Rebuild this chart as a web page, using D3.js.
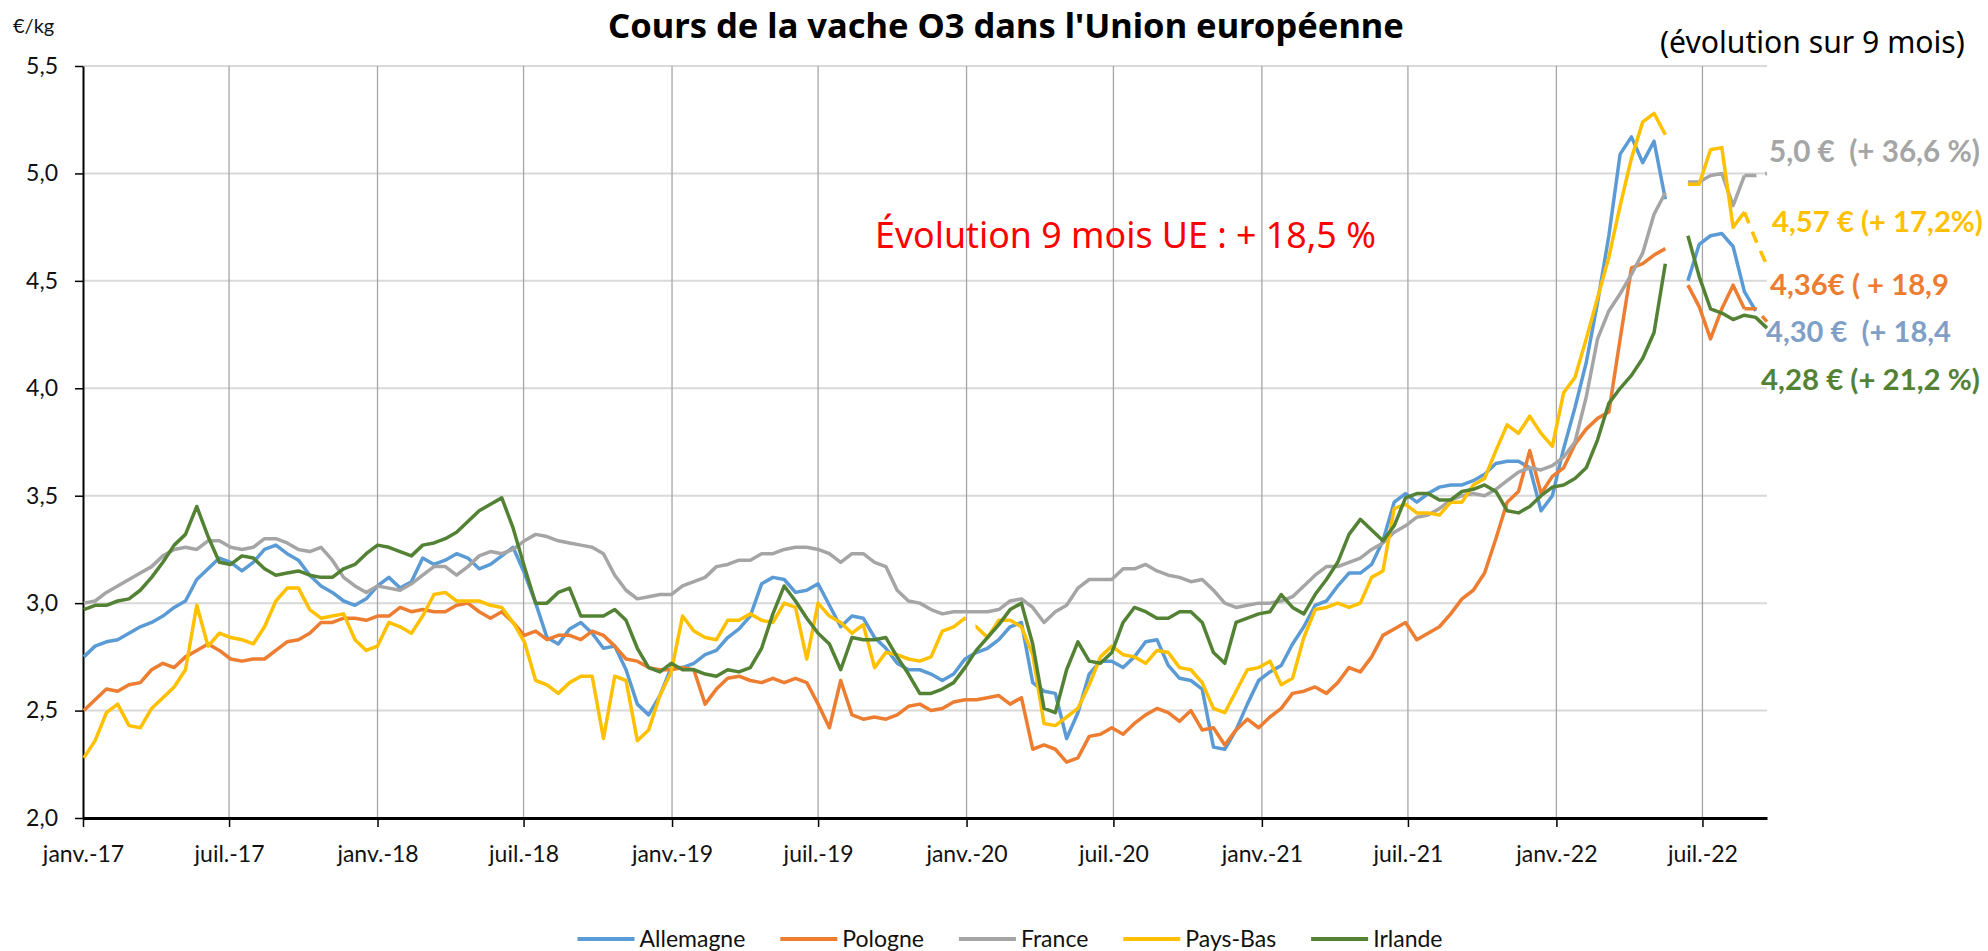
<!DOCTYPE html>
<html lang="fr">
<head>
<meta charset="utf-8">
<title>Cours de la vache O3 dans l'Union européenne</title>
<script src="https://cdn.jsdelivr.net/npm/d3@7"></script>
<style>
  body { margin: 0; background: #fff; }
  svg { display: block; font-family: Lato, 'Open Sans', sans-serif; }
  .grid-h line { stroke: #d9d9d9; stroke-width: 2; }
  .grid-v line { stroke: #a6a6a6; stroke-width: 1.3; }
  .axis text { font-size: 23px; fill: #111; font-family: Lato, sans-serif; }
  .axis line, .axis path { stroke: #000; }
  .series { fill: none; stroke-width: 3.5; stroke-linejoin: round; stroke-linecap: butt; }
</style>
</head>
<body>
<div class="chart"></div>
<script>
const svgWidth = 1988;
const svgHeight = 951;

// plot box, in pixels
const plot = { left: 83, right: 1767, top: 66, bottom: 818 };

// one price every two weeks, first one on 2 Jan 2017
const firstWeek = new Date(2017, 0, 2);
const stepDays = 14;

const seriesNames = ['Allemagne', 'Pologne', 'France', 'Pays-Bas', 'Irlande'];

// null = no price published that week
const allemagne = [
  2.75, 2.80, 2.82, 2.83, 2.86, 2.89, 2.91, 2.94, 2.98, 3.01, 3.11, 3.16, 3.21, 3.19, 3.15, 3.19, 3.25, 3.27, 3.23, 3.20, 3.13, 3.08, 3.05, 3.01, 2.99, 3.02, 3.08,
  3.12, 3.07, 3.10, 3.21, 3.18, 3.20, 3.23, 3.21, 3.16, 3.18, 3.22, 3.26, 3.14, 3.00, 2.84, 2.81, 2.88, 2.91, 2.86, 2.79, 2.80, 2.69, 2.53, 2.48, 2.57, 2.70,
  2.70, 2.72, 2.76, 2.78, 2.84, 2.88, 2.94, 3.09, 3.12, 3.11, 3.05, 3.06, 3.09, 2.99, 2.89, 2.94, 2.93, 2.84, 2.79, 2.72, 2.69, 2.69, 2.67, 2.64, 2.67, 2.74,
  2.77, 2.79, 2.83, 2.89, 2.91, 2.63, 2.59, 2.58, 2.37, 2.49, 2.67, 2.73, 2.73, 2.70, 2.75, 2.82, 2.83, 2.71, 2.65, 2.64, 2.60, 2.33, 2.32, 2.41, 2.53, 2.64,
  2.68, 2.71, 2.81, 2.89, 2.99, 3.01, 3.08, 3.14, 3.14, 3.18, 3.29, 3.47, 3.51, 3.47, 3.51, 3.54, 3.55, 3.55, 3.57, 3.60, 3.65, 3.66, 3.66, 3.63, 3.43, 3.50,
  3.72, 3.91, 4.12, 4.40, 4.71, 5.09, 5.17, 5.05, 5.15, 4.88, null, 4.50, 4.67, 4.71, 4.72, 4.66, 4.45, 4.36, null
];

const pologne = [
  2.50, 2.55, 2.60, 2.59, 2.62, 2.63, 2.69, 2.72, 2.70, 2.75, 2.78, 2.81, 2.78, 2.74, 2.73, 2.74, 2.74, 2.78, 2.82, 2.83, 2.86, 2.91, 2.91, 2.93, 2.93, 2.92, 2.94,
  2.94, 2.98, 2.96, 2.97, 2.96, 2.96, 2.99, 3.00, 2.96, 2.93, 2.96, 2.91, 2.85, 2.87, 2.83, 2.85, 2.85, 2.83, 2.87, 2.85, 2.80, 2.74, 2.73, 2.70, 2.69, 2.69,
  2.70, 2.69, 2.53, 2.60, 2.65, 2.66, 2.64, 2.63, 2.65, 2.63, 2.65, 2.63, 2.53, 2.42, 2.64, 2.48, 2.46, 2.47, 2.46, 2.48, 2.52, 2.53, 2.50, 2.51, 2.54, 2.55,
  2.55, 2.56, 2.57, 2.53, 2.56, 2.32, 2.34, 2.32, 2.26, 2.28, 2.38, 2.39, 2.42, 2.39, 2.44, 2.48, 2.51, 2.49, 2.45, 2.50, 2.41, 2.42, 2.34, 2.41, 2.46, 2.42,
  2.47, 2.51, 2.58, 2.59, 2.61, 2.58, 2.63, 2.70, 2.68, 2.75, 2.85, 2.88, 2.91, 2.83, 2.86, 2.89, 2.95, 3.02, 3.06, 3.14, 3.30, 3.47, 3.52, 3.71, 3.51, 3.59,
  3.63, 3.74, 3.81, 3.86, 3.89, 4.23, 4.56, 4.58, 4.62, 4.65, null, 4.48, 4.38, 4.23, 4.37, 4.48, 4.37, 4.37, 4.31
];

const france = [
  3.00, 3.01, 3.05, 3.08, 3.11, 3.14, 3.17, 3.22, 3.25, 3.26, 3.25, 3.29, 3.29, 3.26, 3.25, 3.26, 3.30, 3.30, 3.28, 3.25, 3.24, 3.26, 3.20, 3.12, 3.08, 3.05, 3.08,
  3.07, 3.06, 3.09, 3.13, 3.17, 3.17, 3.13, 3.17, 3.22, 3.24, 3.23, 3.25, 3.29, 3.32, 3.31, 3.29, 3.28, 3.27, 3.26, 3.23, 3.13, 3.06, 3.02, 3.03, 3.04, 3.04,
  3.08, 3.10, 3.12, 3.17, 3.18, 3.20, 3.20, 3.23, 3.23, 3.25, 3.26, 3.26, 3.25, 3.23, 3.19, 3.23, 3.23, 3.19, 3.17, 3.06, 3.01, 3.00, 2.97, 2.95, 2.96, 2.96,
  2.96, 2.96, 2.97, 3.01, 3.02, 2.98, 2.91, 2.96, 2.99, 3.07, 3.11, 3.11, 3.11, 3.16, 3.16, 3.18, 3.15, 3.13, 3.12, 3.10, 3.11, 3.06, 3.00, 2.98, 2.99, 3.00,
  3.00, 3.01, 3.03, 3.08, 3.13, 3.17, 3.17, 3.19, 3.21, 3.25, 3.28, 3.33, 3.36, 3.40, 3.41, 3.44, 3.48, 3.50, 3.51, 3.50, 3.53, 3.57, 3.61, 3.63, 3.62, 3.64,
  3.68, 3.75, 3.96, 4.23, 4.36, 4.44, 4.53, 4.63, 4.81, 4.91, null, 4.96, 4.96, 4.99, 5.00, 4.85, 4.99, 4.99, 5.00
];

const paysBas = [
  2.28, 2.36, 2.49, 2.53, 2.43, 2.42, 2.51, 2.56, 2.61, 2.69, 2.99, 2.80, 2.86, 2.84, 2.83, 2.81, 2.89, 3.01, 3.07, 3.07, 2.97, 2.93, 2.94, 2.95, 2.83, 2.78, 2.80,
  2.91, 2.89, 2.86, 2.94, 3.04, 3.05, 3.01, 3.01, 3.01, 2.99, 2.98, 2.91, 2.82, 2.64, 2.62, 2.58, 2.63, 2.66, 2.66, 2.37, 2.66, 2.64, 2.36, 2.41, 2.57, 2.68,
  2.94, 2.87, 2.84, 2.83, 2.92, 2.92, 2.95, 2.92, 2.91, 3.00, 2.98, 2.74, 3.00, 2.94, 2.91, 2.86, 2.90, 2.70, 2.77, 2.76, 2.74, 2.73, 2.75, 2.87, 2.89, 2.93,
  2.89, 2.84, 2.92, 2.92, 2.89, 2.76, 2.44, 2.43, 2.47, 2.51, 2.62, 2.75, 2.80, 2.76, 2.75, 2.72, 2.78, 2.77, 2.70, 2.69, 2.63, 2.51, 2.49, 2.59, 2.69, 2.70,
  2.73, 2.62, 2.65, 2.84, 2.97, 2.98, 3.00, 2.98, 3.00, 3.12, 3.15, 3.44, 3.46, 3.42, 3.42, 3.41, 3.47, 3.47, 3.55, 3.58, 3.71, 3.83, 3.79, 3.87, 3.79, 3.73,
  3.98, 4.05, 4.23, 4.42, 4.61, 4.85, 5.07, 5.24, 5.28, 5.18, null, 4.95, 4.95, 5.11, 5.12, 4.75, 4.82, 4.69, 4.57
];

const irlande = [
  2.97, 2.99, 2.99, 3.01, 3.02, 3.06, 3.12, 3.19, 3.27, 3.32, 3.45, 3.31, 3.19, 3.18, 3.22, 3.21, 3.16, 3.13, 3.14, 3.15, 3.13, 3.12, 3.12, 3.16, 3.18, 3.23, 3.27,
  3.26, 3.24, 3.22, 3.27, 3.28, 3.30, 3.33, 3.38, 3.43, 3.46, 3.49, 3.35, 3.17, 3.00, 3.00, 3.05, 3.07, 2.94, 2.94, 2.94, 2.97, 2.92, 2.79, 2.70, 2.68, 2.72,
  2.69, 2.69, 2.67, 2.66, 2.69, 2.68, 2.70, 2.79, 2.95, 3.08, 3.01, 2.93, 2.86, 2.81, 2.69, 2.84, 2.83, 2.83, 2.84, 2.75, 2.67, 2.58, 2.58, 2.60, 2.63, 2.70,
  2.78, 2.84, 2.90, 2.97, 3.00, 2.81, 2.51, 2.49, 2.69, 2.82, 2.73, 2.72, 2.77, 2.91, 2.98, 2.96, 2.93, 2.93, 2.96, 2.96, 2.91, 2.77, 2.72, 2.91, 2.93, 2.95,
  2.96, 3.04, 2.98, 2.95, 3.04, 3.11, 3.19, 3.32, 3.39, 3.34, 3.29, 3.36, 3.49, 3.51, 3.51, 3.48, 3.48, 3.52, 3.53, 3.55, 3.52, 3.43, 3.42, 3.45, 3.50, 3.54,
  3.55, 3.58, 3.63, 3.76, 3.93, 4.00, 4.06, 4.14, 4.26, 4.58, null, 4.71, 4.52, 4.37, 4.35, 4.32, 4.34, 4.33, 4.28
];

// Pays-Bas misses one week around new year 2020
const gapPaysBas = [['2019-12-31', '2020-01-12']];

const xTickLabels = ['janv.-17', 'juil.-17', 'janv.-18', 'juil.-18', 'janv.-19', 'juil.-19',
  'janv.-20', 'juil.-20', 'janv.-21', 'juil.-21', 'janv.-22', 'juil.-22'];
const yTicks = [2.0, 2.5, 3.0, 3.5, 4.0, 4.5, 5.0, 5.5];

const endLabels = ['5,0 €  (+ 36,6 %)', '4,57 € (+ 17,2%)', '4,36€ ( + 18,9', '4,30 €  (+ 18,4', '4,28 € (+ 21,2 %)'];

// styling
const colors = ['#5b9bd5', '#ed7d31', '#a5a5a5', '#ffc000', '#548235'];
const endLabelColors = ['#a5a5a5', '#ffc000', '#ed7d31', '#7f9fc6', '#548235'];
const endLabelPos = [
  { x: 1769, y: 152, w: 211 },
  { x: 1772, y: 222, w: 211 },
  { x: 1770, y: 285, w: 179 },
  { x: 1766, y: 332, w: 185 },
  { x: 1761, y: 380, w: 219 }
];

const frFormat = d3.formatLocale({ decimal: ',', thousands: ' ', grouping: [3], currency: ['', ' €'] });

const dates = allemagne.map((_, i) => d3.timeDay.offset(firstWeek, stepDays * i));

const seriesList = [
  { name: 'Allemagne', values: allemagne, color: colors[0], dashFrom: null, gaps: [] },
  { name: 'Pologne', values: pologne, color: colors[1], dashFrom: 147, gaps: [] },
  { name: 'France', values: france, color: colors[2], dashFrom: 147, gaps: [] },
  { name: 'Pays-Bas', values: paysBas, color: colors[3], dashFrom: 147, gaps: gapPaysBas },
  { name: 'Irlande', values: irlande, color: colors[4], dashFrom: null, gaps: [] }
];

const svg = d3.select('.chart')
  .append('svg')
  .attr('width', svgWidth)
  .attr('height', svgHeight);

const xScale = d3.scaleTime()
  .domain([new Date(2017, 0, 1), new Date(2022, 8, 19)])
  .range([plot.left, plot.right]);

const yScale = d3.scaleLinear()
  .domain([2, 5.5])
  .range([plot.bottom, plot.top]);

const xTickDates = d3.timeMonth.every(6).range(new Date(2017, 0, 1), new Date(2022, 7, 1));

// gridlines
svg.append('g')
  .attr('class', 'grid-h')
  .selectAll('line')
  .data(yTicks.filter(d => d > 2))
  .enter()
  .append('line')
  .attr('x1', plot.left)
  .attr('x2', plot.right)
  .attr('y1', d => yScale(d))
  .attr('y2', d => yScale(d));

svg.append('g')
  .attr('class', 'grid-v')
  .selectAll('line')
  .data(xTickDates.slice(1))
  .enter()
  .append('line')
  .attr('x1', d => xScale(d))
  .attr('x2', d => xScale(d))
  .attr('y1', plot.top)
  .attr('y2', plot.bottom);

// y axis
const yAxis = svg.append('g')
  .attr('class', 'axis')
  .attr('transform', `translate(${plot.left}, 0)`)
  .call(d3.axisLeft(yScale)
    .tickValues(yTicks)
    .tickSize(8)
    .tickSizeOuter(0)
    .tickPadding(17)
    .tickFormat(frFormat.format('.1f')));
yAxis.select('.domain').attr('stroke-width', 2);
yAxis.selectAll('.tick line').attr('stroke-width', 1.5);

// x axis
const xAxis = svg.append('g')
  .attr('class', 'axis')
  .attr('transform', `translate(0, ${plot.bottom})`)
  .call(d3.axisBottom(xScale)
    .tickValues(xTickDates)
    .tickSize(9)
    .tickSizeOuter(0)
    .tickPadding(19)
    .tickFormat((d, i) => xTickLabels[i]));
xAxis.select('.domain').attr('stroke-width', 3);
xAxis.selectAll('.tick line').attr('stroke-width', 1.5);

// clip paths that cut a line between two points where a week is missing
const defs = svg.append('defs');
function addClip(id, gaps) {
  const clip = defs.append('clipPath').attr('id', id);
  let start = 0;
  gaps.map(g => [xScale(new Date(g[0])), xScale(new Date(g[1]))])
    .sort((a, b) => a[0] - b[0])
    .forEach(g => {
      clip.append('rect').attr('x', start).attr('y', 0).attr('width', g[0] - start).attr('height', svgHeight);
      start = g[1];
    });
  clip.append('rect').attr('x', start).attr('y', 0).attr('width', svgWidth - start).attr('height', svgHeight);
}

const line = d3.line()
  .defined(d => d.value !== null)
  .x(d => xScale(d.date))
  .y(d => yScale(d.value));

seriesList.forEach((s, k) => {
  const clipId = 'clip-' + k;
  addClip(clipId, s.gaps);
  const points = s.values.map((v, i) => ({ date: dates[i], value: v, i: i }));
  const solid = s.dashFrom === null ? points : points.filter(d => d.i <= s.dashFrom);
  const g = svg.append('g').attr('clip-path', `url(#${clipId})`);
  g.append('path')
    .datum(solid)
    .attr('class', 'series')
    .attr('stroke', s.color)
    .attr('d', line);
  if (s.dashFrom !== null) {
    g.append('path')
      .datum(points.filter(d => d.i >= s.dashFrom))
      .attr('class', 'series')
      .attr('stroke', s.color)
      .attr('stroke-dasharray', '12,9')
      .attr('d', line);
  }
});

// fit a text to a given width by scaling its font size
function fitText(sel, width) {
  const w = sel.node().getComputedTextLength();
  const size = parseFloat(sel.attr('font-size'));
  sel.attr('font-size', (size * width / w).toFixed(2));
}

// titles and notes
const title = svg.append('text')
  .attr('x', 1006)
  .attr('y', 38)
  .attr('text-anchor', 'middle')
  .attr('font-family', "'Noto Sans', 'Open Sans', sans-serif")
  .attr('font-weight', 700)
  .attr('font-size', 28)
  .attr('fill', '#000')
  .text("Cours de la vache O3 dans l'Union européenne");
fitText(title, 796);

svg.append('text')
  .attr('x', 13)
  .attr('y', 33)
  .attr('font-size', 20)
  .attr('fill', '#111')
  .text('€/kg');

const subTitle = svg.append('text')
  .attr('x', 1660)
  .attr('y', 53)
  .attr('font-family', "'Noto Sans', 'Open Sans', sans-serif")
  .attr('font-size', 24)
  .attr('fill', '#000')
  .text('(évolution sur 9 mois)');
fitText(subTitle, 305);

const euNote = svg.append('text')
  .attr('x', 875)
  .attr('y', 248)
  .attr('font-family', "'Noto Sans', 'Open Sans', sans-serif")
  .attr('font-size', 29)
  .attr('fill', '#ff0000')
  .text('Évolution 9 mois UE : + 18,5 %');
fitText(euNote, 501);

endLabels.forEach((label, i) => {
  const t = svg.append('text')
    .attr('x', endLabelPos[i].x)
    .attr('y', endLabelPos[i].y)
    .attr('dy', '0.35em')
    .attr('font-weight', 700)
    .attr('font-size', 27)
    .attr('fill', endLabelColors[i])
    .style('white-space', 'pre')
    .text(label);
  fitText(t, endLabelPos[i].w);
});

// legend
const legend = svg.append('g').attr('class', 'legend');
let legendX = 0;
seriesNames.forEach((name, i) => {
  const item = legend.append('g').attr('transform', `translate(${legendX}, 0)`);
  item.append('line')
    .attr('x1', 0)
    .attr('x2', 57)
    .attr('stroke', colors[i])
    .attr('stroke-width', 4);
  const t = item.append('text')
    .attr('x', 62)
    .attr('dy', '0.35em')
    .attr('font-size', 23)
    .attr('fill', '#111')
    .text(name);
  legendX += 62 + t.node().getComputedTextLength() + 35;
});
const legendWidth = legendX - 35;
legend.attr('transform', `translate(${1010 - legendWidth / 2}, 939)`);
</script>
</body>
</html>
